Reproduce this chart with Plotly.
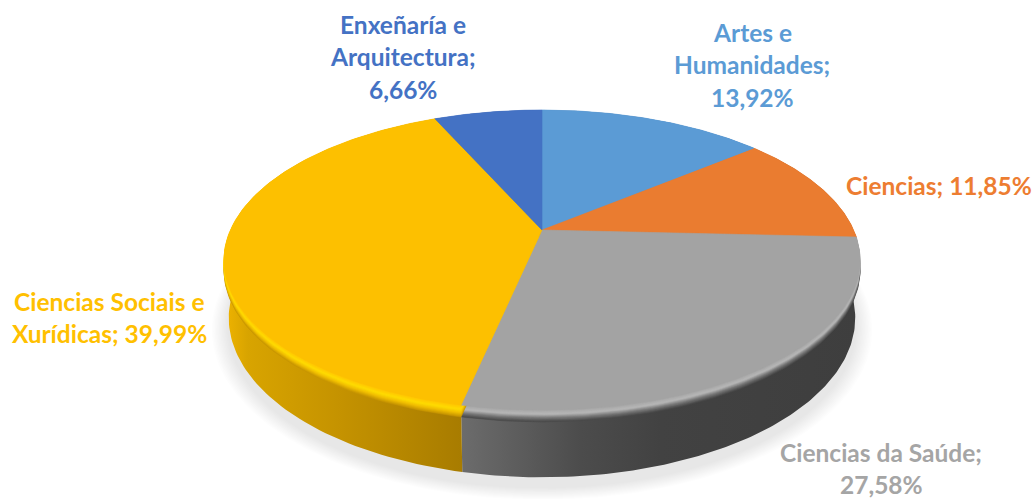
import numpy as np
import plotly.graph_objects as go

# --- data ---
categories = ["Artes e Humanidades", "Ciencias", "Ciencias da Saúde",
              "Ciencias Sociais e Xurídicas", "Enxeñaría e Arquitectura"]
values = [13.92, 11.85, 27.58, 39.99, 6.66]
colors = ["#5b9bd5", "#ea7c30", "#a3a3a3", "#fdc000", "#4472c4"]
label_colors = ["#5b9bd5", "#ed7d31", "#a5a5a5", "#ffc000", "#4472c4"]
label_lines = [["Artes e", "Humanidades;", "13,92%"],
               ["Ciencias; 11,85%"],
               ["Ciencias da Saúde;", "27,58%"],
               ["Ciencias Sociais e", "Xurídicas; 39,99%"],
               ["Enxeñaría e", "Arquitectura;", "6,66%"]]
label_centers = [(752, 32), (939, 185), (881, 452), (109, 301), (403, 24)]
LINE_STEP = 32.5

# wall gradients per slice (left colour -> right colour)
wall_scales = [
    [[0, "#3f6f9c"], [1, "#3f6f9c"]],
    [[0, "#7a4018"], [1, "#8a4a1c"]],
    [[0, "#6c6c6c"], [0.3, "#4c4c4c"], [0.5, "#424242"], [1, "#3e3e3e"]],
    [[0, "#f0b400"], [0.1, "#d8a400"], [0.5, "#c49200"], [1, "#a87c00"]],
    [[0, "#2f5597"], [1, "#2f5597"]],
]
# bevel shades, outermost to innermost (interpolated into fine steps below)
bevels = [
    ["#4a7cab", "#5b9bd5", "#5b9bd5"],
    ["#a05a20", "#ea7c30", "#ea7c30"],
    ["#4a4a4a", "#777777", "#b8b8b8", "#a8a8a8"],
    ["#c89600", "#f0be00", "#ffdc00", "#ffc800"],
    ["#2f5597", "#4472c4", "#4472c4"],
]
BEVEL_DEPTH = 9.0
BEVEL_STEPS = 12

# --- projection of the disc ---
CX, CY, F, G, Q = 542.0, 230.0, 311.6, 144.0, 0.2
H = 56.0


def project(theta, z=0.0, scale=1.0):
    X, Y = np.sin(theta), np.cos(theta)
    den = 1 + Q * Y
    return (CX + scale * F * X / den,
            CY - scale * G * Y / den + z / den)


def mix(stops, u):
    rgb = np.array([[int(s[i:i + 2], 16) for i in (1, 3, 5)] for s in stops], float)
    pos = np.linspace(0, 1, len(stops))
    return "rgb(%d,%d,%d)" % tuple(np.interp(u, pos, rgb[:, c]) for c in range(3))


edges = np.radians(np.concatenate([[0], np.cumsum(values)]) * 3.6)
all_t = np.linspace(0, 2 * np.pi, 361)

fig = go.Figure()


def poly(x, y, color=None, gradient=None, line=0.6):
    kw = dict(x=x, y=y, mode="lines", fill="toself", hoverinfo="skip", showlegend=False)
    if gradient is not None:
        kw["fillgradient"] = gradient
        kw["line"] = dict(width=0, color="rgba(0,0,0,0)")
    else:
        kw["fillcolor"] = color
        kw["line"] = dict(width=line, color=color if line else "rgba(0,0,0,0)")
    fig.add_trace(go.Scatter(**kw))


# soft shadow beneath the disc
for i in range(12):
    sx, sy = project(all_t, H + 8, 0.985)
    grow = 1 + (12 - i) * 0.0045
    x = CX + (sx - CX) * grow
    y = (CY + H * 0.5) + (sy - (CY + H * 0.5)) * grow
    poly(x, y, "rgba(110,110,110,0.016)", line=0)

# side wall, slice by slice
for k in range(len(values)):
    t = np.linspace(edges[k], edges[k + 1], 120)
    xt, yt = project(t, 0.0)
    xb, yb = project(t, H, 0.985)
    x = np.concatenate([xt, xb[::-1]])
    y = np.concatenate([yt, yb[::-1]])
    if k == 2:
        lo, hi = project(edges[3])[0], 860.0
    elif k == 3:
        lo, hi = 224.0, project(edges[3])[0]
    else:
        lo, hi = float(x.min()), float(x.max())
    poly(x, y, gradient=dict(type="horizontal", colorscale=wall_scales[k], start=lo, stop=hi))

# bevel: stacked copies of each slice, from the wall up to the face
for k in range(len(values)):
    t = np.linspace(edges[k], edges[k + 1], 120)
    for j in range(BEVEL_STEPS):
        u = j / (BEVEL_STEPS - 1)
        z = (1 - u) * BEVEL_DEPTH + 0.5
        c = mix(bevels[k], u)
        xs, ys = project(t, z)
        poly(np.concatenate([[CX], xs]), np.concatenate([[CY + z], ys]), c)

# faces
for k in range(len(values)):
    t = np.linspace(edges[k], edges[k + 1], 160)
    xs, ys = project(t)
    poly(np.concatenate([[CX], xs, [CX]]), np.concatenate([[CY], ys, [CY]]), colors[k])

# labels, one real text per line
for lines, (lx, ly), col in zip(label_lines, label_centers, label_colors):
    for i, line in enumerate(lines):
        fig.add_annotation(x=lx, y=ly + i * LINE_STEP, text=f"<b>{line}</b>", showarrow=False,
                           xanchor="center", yanchor="middle",
                           font=dict(family="Lato", size=24.5, color=col))

fig.update_layout(
    width=1036, height=499, margin=dict(l=0, r=0, t=0, b=0),
    paper_bgcolor="white", plot_bgcolor="white", showlegend=False,
    xaxis=dict(range=[0, 1036], visible=False, fixedrange=True),
    yaxis=dict(range=[499, 0], visible=False, fixedrange=True),
)
fig.write_html("out.html", config={"displayModeBar": False},
               post_script="document.body.style.margin='0';document.body.style.overflow='hidden';")
